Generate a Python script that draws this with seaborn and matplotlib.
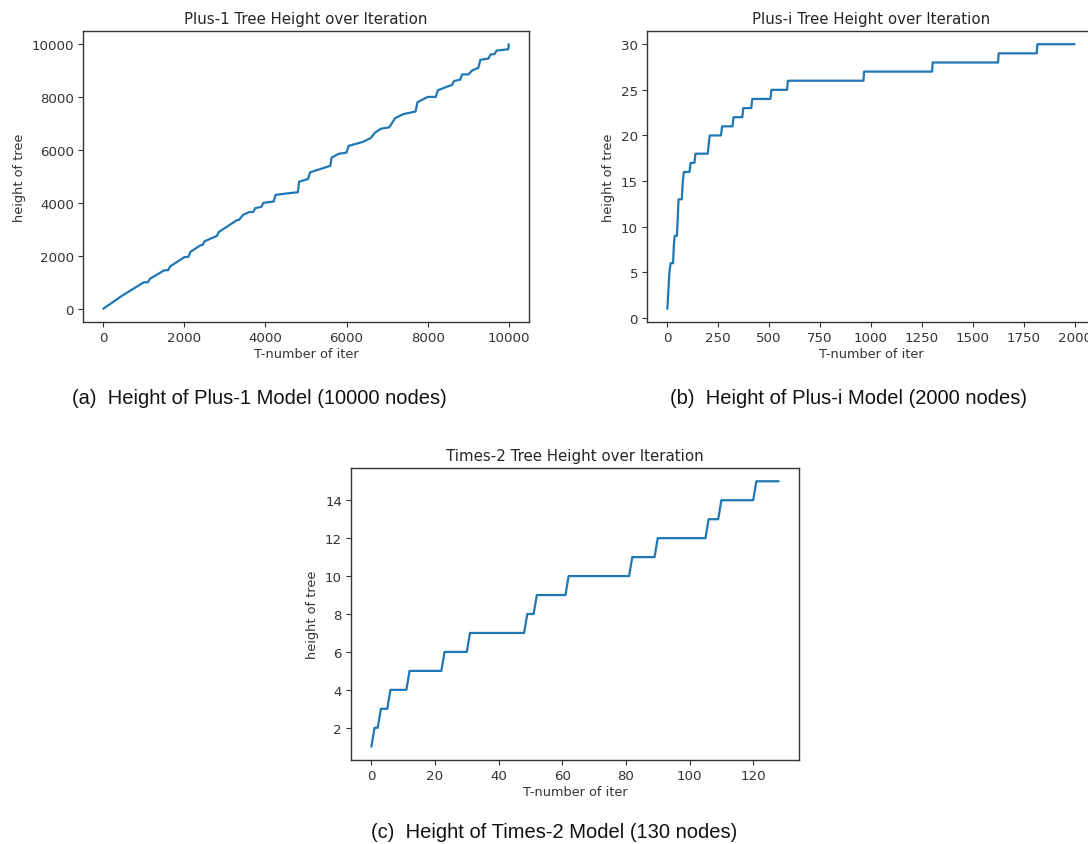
import matplotlib
matplotlib.use("Agg")
import matplotlib.pyplot as plt
import seaborn as sns

# ---- data (vertices of each height curve) ----
plus1_iter = [0, 450, 1000, 1100, 1150, 1500, 1600, 1650, 2000, 2100, 2150, 2400, 2450, 2500,
              2800, 2850, 3100, 3300, 3350, 3450, 3600, 3700, 3750, 3900, 3950, 4200, 4250,
              4500, 4800, 4830, 5050, 5100, 5400, 5600, 5630, 5800, 6000, 6050, 6400, 6600,
              6700, 6850, 7050, 7200, 7400, 7700, 7750, 8000, 8200, 8250, 8500, 8600, 8650,
              8800, 8850, 9000, 9100, 9250, 9300, 9500, 9550, 9650, 9700, 9990, 10000]
plus1_height = [0, 480, 1000, 1000, 1130, 1450, 1460, 1600, 1950, 1960, 2150, 2400, 2410, 2550,
                2750, 2900, 3150, 3350, 3360, 3550, 3650, 3660, 3800, 3850, 4000, 4050, 4300,
                4350, 4400, 4800, 4900, 5150, 5300, 5400, 5700, 5850, 5900, 6150, 6300, 6450,
                6650, 6800, 6850, 7200, 7350, 7450, 7800, 8000, 8000, 8250, 8400, 8450, 8600,
                8650, 8850, 8850, 9000, 9100, 9400, 9450, 9600, 9620, 9750, 9800, 9990]

plusi_iter = [0, 10, 16, 28, 32, 36, 47, 55, 71, 76, 81, 109, 114, 133, 138, 198, 203, 208,
              263, 269, 320, 325, 368, 373, 412, 417, 506, 511, 588, 592, 963, 966, 1300,
              1303, 1624, 1627, 1814, 1817, 2000]
plusi_height = [1, 5, 6, 6, 8, 9, 9, 13, 13, 15, 16, 16, 17, 17, 18, 18, 19, 20,
                20, 21, 21, 22, 22, 23, 23, 24, 24, 25, 25, 26, 26, 27, 27,
                28, 28, 29, 29, 30, 30]

times2_iter = [0, 1, 2, 3, 5, 6, 11, 12, 22, 23, 30, 31, 48, 49, 51, 52, 61, 62, 81, 82,
               89, 90, 105, 106, 109, 110, 120, 121, 128]
times2_height = [1, 2, 2, 3, 3, 4, 4, 5, 5, 6, 6, 7, 7, 8, 8, 9, 9, 10, 10, 11,
                 11, 12, 12, 13, 13, 14, 14, 15, 15]

titles = ["Plus-1 Tree Height over Iteration",
          "Plus-i Tree Height over Iteration",
          "Times-2 Tree Height over Iteration"]
captions = ["(a)  Height of Plus-1 Model (10000 nodes)",
            "(b)  Height of Plus-i Model (2000 nodes)",
            "(c)  Height of Times-2 Model (130 nodes)"]

sns.set_style("ticks")
plt.rcParams["font.family"] = ["DejaVu Sans"]
plt.rcParams["axes.edgecolor"] = "#333333"
plt.rcParams["axes.linewidth"] = 1.0
plt.rcParams["xtick.color"] = "#333333"
plt.rcParams["ytick.color"] = "#333333"

W, H = 1088, 845
fig = plt.figure(figsize=(W / 100, H / 100), dpi=100)


def px_axes(left, top, right, bottom):
    return fig.add_axes([left / W, 1 - bottom / H, (right - left) / W, (bottom - top) / H])


axes = [px_axes(83, 32, 529, 323),
        px_axes(647, 32, 1095, 323),
        px_axes(351, 469, 799, 761)]
series = [(plus1_iter, plus1_height),
          (plusi_iter, plusi_height),
          (times2_iter, times2_height)]

for ax, (xs, ys), title in zip(axes, series, titles):
    sns.lineplot(x=xs, y=ys, ax=ax, sort=False, estimator=None,
                 color="#1f77b4", linewidth=1.6)
    ax.set_title(title, fontsize=10.8, color="#262626", pad=6)
    ax.set_xlabel("T-number of iter", fontsize=9.3, color="#333333", labelpad=2)
    ax.set_ylabel("height of tree", fontsize=9.3, color="#333333", labelpad=4)
    ax.tick_params(labelsize=9.6, length=3.5, width=0.8, pad=3)
    for s in ax.spines.values():
        s.set_visible(True)

axes[1].set_xticks([0, 250, 500, 750, 1000, 1250, 1500, 1750, 2000])
axes[2].set_yticks([2, 4, 6, 8, 10, 12, 14])

cap_font = dict(family=["Liberation Sans", "DejaVu Sans"], fontsize=14.5, color="#111111",
                ha="center", va="center")
fig.text(259 / W, 1 - 398 / H, captions[0], **cap_font)
fig.text(848 / W, 1 - 398 / H, captions[1], **cap_font)
fig.text(554 / W, 1 - 833 / H, captions[2], **cap_font)

fig.savefig("out.png", dpi=100, facecolor="white")
